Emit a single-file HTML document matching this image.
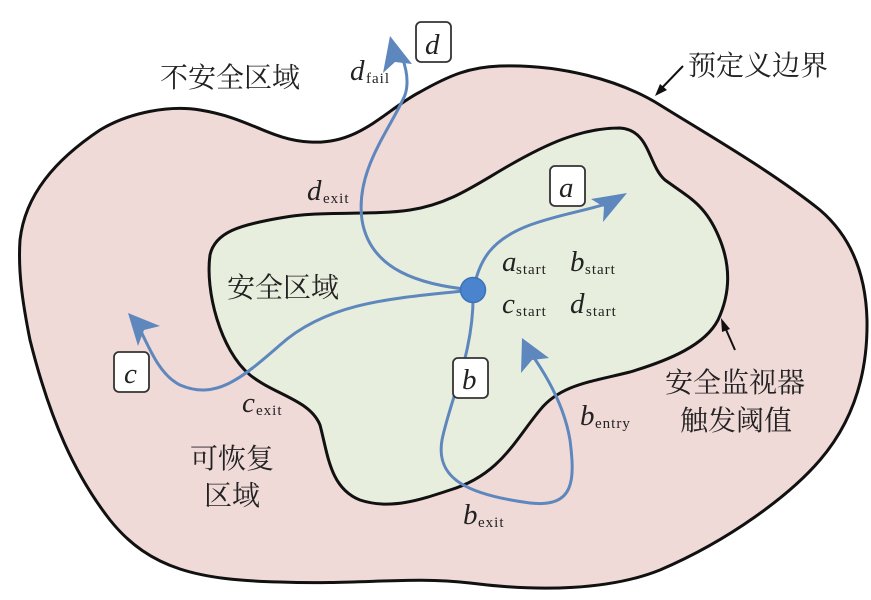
<!DOCTYPE html>
<html><head><meta charset="utf-8"><style>
html,body{margin:0;padding:0;background:#fff;width:871px;height:600px;overflow:hidden}
svg{display:block}
.cn{font-family:"Liberation Serif","Noto Serif CJK SC",serif;font-size:28px;fill:#222}
.it{font-family:"Liberation Serif",serif;font-style:italic;font-size:29px;fill:#222}
.sb{font-family:"Liberation Serif",serif;font-size:15px;fill:#222;letter-spacing:1px}
</style></head><body>
<svg width="871" height="600" viewBox="0 0 871 600">
<path d="M20,240 C25,195 55,160 100,130 C130,112 170,105 200,110 C250,118 270,140 310,142 C360,145 385,110 420,92 C450,75 470,67 500,66 C560,64 620,80 660,105 C700,130 770,170 820,210 C855,240 866,280 867,320 C868,380 850,425 820,460 C790,495 730,540 660,570 C610,590 540,592 470,583 C410,576 360,585 280,582 C200,580 150,570 110,520 C75,475 50,420 30,340 C22,300 18,270 20,240 Z" fill="#f0dad8" stroke="#111" stroke-width="3"/>
<path d="M210,255 C215,232 240,225 280,218 C320,210 370,216 410,210 C450,204 475,185 510,165 C545,145 580,128 620,128 C650,130 648,165 665,180 C690,198 705,205 718,235 C730,262 732,290 718,320 C705,345 670,360 630,372 C590,382 560,385 540,410 C515,440 500,475 450,490 C420,500 390,510 360,500 C330,488 328,455 320,425 C310,400 275,395 250,375 C220,350 205,290 210,255 Z" fill="#e8eedd" stroke="#111" stroke-width="3"/>
<g fill="none" stroke="#5d87bd" stroke-width="3">
<path d="M473,290 C480,260 490,240 530,225 C560,214 590,210 612,202"/>
<path d="M473,290 C420,285 370,270 362,220 C355,170 390,130 405,95 C410,80 405,60 397,48"/>
<path d="M473,290 C400,298 330,300 280,345 C240,380 215,400 180,385 C160,375 150,350 138,325"/>
<path d="M473,290 C475,350 450,400 442,440 C435,480 470,495 530,503 C575,508 575,480 570,440 C565,410 550,380 530,352"/>
</g>
<g fill="#5d87bd">
<path d="M627,193 L603,222 L604,207 L591,199 Z"/>
<path d="M390,36 L383,73 L395,62 L412,64 Z"/>
<path d="M128,313 L160,326 L144,330 L138,346 Z"/>
<path d="M522,338 L521,373 L532,360 L549,358 Z"/>
</g>
<circle cx="473" cy="290" r="12.5" fill="#4a84cf" stroke="#3d72b6" stroke-width="1.5"/>
<g fill="#fff" stroke="#333" stroke-width="1.8">
<rect x="416" y="22" width="35" height="40" rx="5"/>
<rect x="550" y="166" width="35" height="40" rx="5"/>
<rect x="114" y="352" width="35" height="40" rx="5"/>
<rect x="453" y="358" width="35" height="40" rx="5"/>
</g>
<text class="it" x="425" y="54">d</text>
<text class="it" x="559" y="197">a</text>
<text class="it" x="124" y="383">c</text>
<text class="it" x="462" y="389">b</text>
<text class="cn" x="160" y="87">不安全区域</text>
<text class="cn" x="688" y="75">预定义边界</text>
<text class="cn" x="227" y="297">安全区域</text>
<text class="cn" x="665" y="392">安全监视器</text>
<text class="cn" x="680" y="430">触发阈值</text>
<text class="cn" x="190" y="468">可恢复</text>
<text class="cn" x="204" y="505">区域</text>
<path d="M683,66 L658,92" stroke="#111" stroke-width="2"/><path d="M655,96 L660,84 L667,90 Z" fill="#111"/>
<path d="M735,350 L724,325" stroke="#111" stroke-width="2"/><path d="M721,318 L730,329 L722,332 Z" fill="#111"/>
<text class="it" x="350" y="80">d</text><text class="sb" x="366" y="83">fail</text>
<text class="it" x="307" y="200">d</text><text class="sb" x="323" y="203">exit</text>
<text class="it" x="502" y="271">a</text><text class="sb" x="516" y="274">start</text>
<text class="it" x="570" y="271">b</text><text class="sb" x="585" y="274">start</text>
<text class="it" x="502" y="313">c</text><text class="sb" x="516" y="316">start</text>
<text class="it" x="570" y="313">d</text><text class="sb" x="586" y="316">start</text>
<text class="it" x="242" y="412">c</text><text class="sb" x="256" y="415">exit</text>
<text class="it" x="580" y="425">b</text><text class="sb" x="595" y="428">entry</text>
<text class="it" x="463" y="524">b</text><text class="sb" x="478" y="527">exit</text>
</svg>
</body></html>
